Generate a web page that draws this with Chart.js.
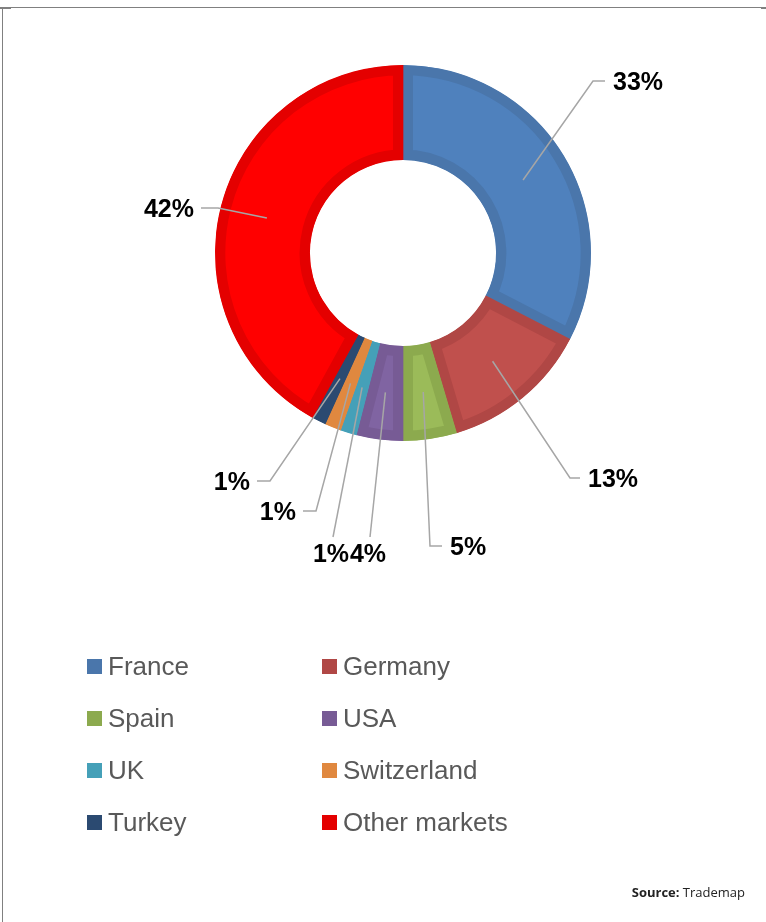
<!DOCTYPE html>
<html>
<head>
<meta charset="utf-8">
<script src="https://cdn.jsdelivr.net/npm/chart.js@4"></script>
<style>
  html, body { margin: 0; padding: 0; background: #fff; }
  body { width: 766px; height: 922px; position: relative; overflow: hidden; font-family: Arial, "Liberation Sans", sans-serif; }
  #frameTop { position: absolute; left: 0; top: 7px; width: 766px; height: 1px; background: #808080; }
  #frameLeft { position: absolute; left: 2px; top: 7px; width: 1px; height: 915px; background: #808080; }
  #tickL { position: absolute; left: 0; top: 8px; width: 11px; height: 1px; background: #808080; }
  #tickR { position: absolute; left: 761px; top: 8px; width: 5px; height: 1px; background: #808080; }
  #c { position: absolute; left: 0; top: 0; }
  .leg { position: absolute; height: 30px; display: flex; align-items: center; font-family: Arial, "Liberation Sans", sans-serif; font-size: 26px; color: #595959; white-space: nowrap; }
  .sw { width: 15px; height: 15px; margin-right: 6px; flex: none; }
  #source { position: absolute; right: 21px; top: 883px; font-family: "Open Sans", "Liberation Sans", sans-serif; font-size: 13px; color: #222; }
</style>
</head>
<body>
<div id="frameTop"></div>
<div id="frameLeft"></div>
<div id="tickL"></div>
<div id="tickR"></div>
<canvas id="c" width="766" height="922"></canvas>
<div id="legend"></div>
<div id="source"><b>Source:</b> Trademap</div>
<script>
// ---- data ----
const categories = ["France", "Germany", "Spain", "USA", "UK", "Switzerland", "Turkey", "Other markets"];
const shares = [32.6, 12.8, 4.6, 4.0, 1.4, 1.4, 1.2, 42.0];
const shareLabels = ["33%", "13%", "5%", "4%", "1%", "1%", "1%", "42%"];

// ---- styles ----
const fillColors   = ["#4F81BD", "#C0504D", "#9BBB59", "#8064A2", "#4BACC6", "#F79646", "#2C4D75", "#FF0000"];
const borderColors = ["#4A76AB", "#B04745", "#8CAA4E", "#775B95", "#45A0B8", "#E0883F", "#2B4A71", "#E40000"];

// label layout: elbow offset from chart centre, tail (horizontal) length, text placement
const labelLayout = [
  {dx: 190, dy: -172, tail: 12, side: "right"},
  {dx: 167, dy: 225, tail: 10, side: "right"},
  {dx: 27, dy: 293, tail: 12, side: "right"},
  {dx: -33, dy: 284, tail: 0, side: "below"},
  {dx: -70, dy: 284, tail: 0, side: "below"},
  {dx: -87, dy: 258, tail: 13, side: "left"},
  {dx: -133, dy: 228, tail: 13, side: "left"},
  {dx: -185, dy: -45, tail: 17, side: "left"}
];

const leaderPlugin = {
  id: "leaders",
  afterDatasetsDraw(chart) {
    const ctx = chart.ctx;
    const meta = chart.getDatasetMeta(0);
    ctx.save();
    meta.data.forEach((arc, i) => {
      const p = arc.getCenterPoint();
      const L = labelLayout[i];
      const ex = arc.x + L.dx, ey = arc.y + L.dy;
      ctx.strokeStyle = "#A6A6A6";
      ctx.lineWidth = 1.5;
      ctx.beginPath();
      ctx.moveTo(p.x, p.y);
      ctx.lineTo(ex, ey);
      let tx = ex;
      if (L.side === "right") tx = ex + L.tail;
      if (L.side === "left") tx = ex - L.tail;
      ctx.lineTo(tx, ey);
      ctx.stroke();
      ctx.fillStyle = "#000";
      ctx.font = "bold 25px Arial, 'Liberation Sans', sans-serif";
      if (L.side === "right") {
        ctx.textAlign = "left"; ctx.textBaseline = "middle";
        ctx.fillText(shareLabels[i], tx + 8, ey + 2);
      } else if (L.side === "left") {
        ctx.textAlign = "right"; ctx.textBaseline = "middle";
        ctx.fillText(shareLabels[i], tx - 7, ey + 2);
      } else {
        ctx.textAlign = "center"; ctx.textBaseline = "middle";
        ctx.fillText(shareLabels[i], tx - 2, ey + 18);
      }
    });
    ctx.restore();
  }
};

new Chart(document.getElementById("c"), {
  type: "doughnut",
  data: {
    labels: categories,
    datasets: [{
      data: shares,
      backgroundColor: fillColors,
      borderColor: borderColors,
      borderWidth: 10,
      borderAlign: "inner",
      radius: 188
    }]
  },
  options: {
    responsive: false,
    animation: false,
    events: [],
    rotation: 0,
    cutout: "49.5%",
    layout: { padding: { left: 40, right: 0, top: 0, bottom: 416 } },
    plugins: { legend: { display: false }, tooltip: { enabled: false } }
  },
  plugins: [leaderPlugin]
});

// ---- HTML legend (two columns) ----
const legend = document.getElementById("legend");
categories.forEach((name, i) => {
  const col = i % 2, row = Math.floor(i / 2);
  const d = document.createElement("div");
  d.className = "leg";
  d.style.left = (col === 0 ? 87 : 322) + "px";
  d.style.top = (651 + row * 52.3) + "px";
  const sw = document.createElement("span");
  sw.className = "sw";
  sw.style.background = borderColors[i];
  d.appendChild(sw);
  d.appendChild(document.createTextNode(name));
  legend.appendChild(d);
});
</script>
</body>
</html>
